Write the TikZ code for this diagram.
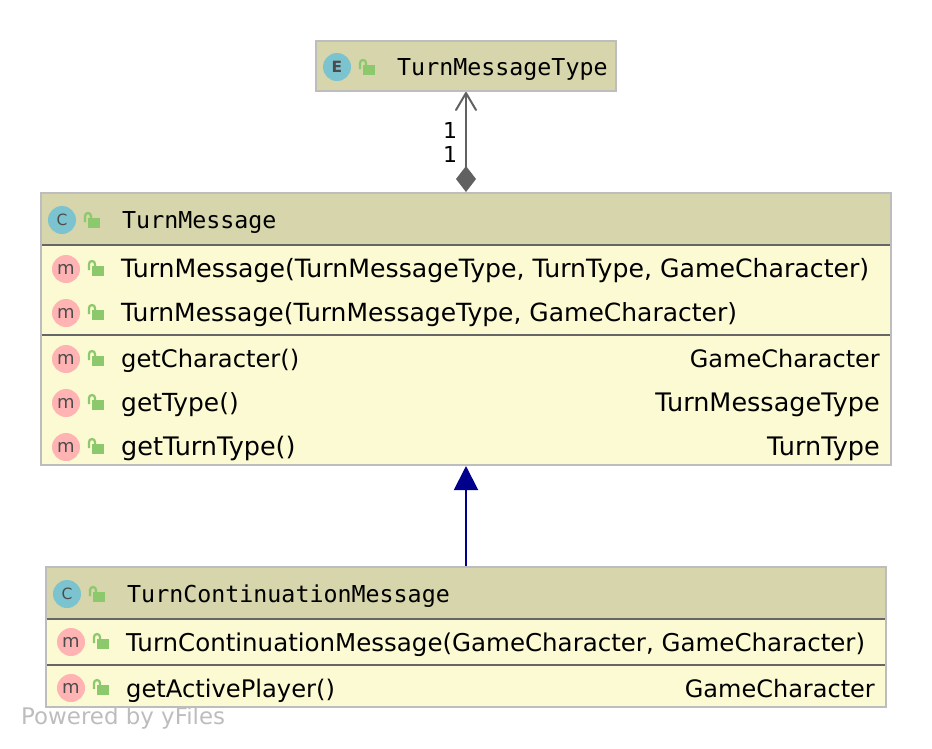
\documentclass[tikz,border=0pt]{standalone}
\usepackage{fontspec}
\setmainfont{DejaVu Sans}
\setmonofont{DejaVu Sans Mono}
\usetikzlibrary{arrows.meta}
\definecolor{headfill}{HTML}{D6D5AB}
\definecolor{bodyfill}{HTML}{FCFAD2}
\definecolor{boxline}{HTML}{BDBDBD}
\definecolor{sepline}{HTML}{666666}
\definecolor{iconblue}{HTML}{7CC3D0}
\definecolor{iconpink}{HTML}{FFB3B3}
\definecolor{lockgreen}{HTML}{8CC86C}
\tikzset{
  boxbody/.style={rectangle, fill=bodyfill, minimum height=#1, inner sep=0pt},
  boxhead/.style={rectangle, fill=headfill, inner sep=0pt},
  boxframe/.style={draw=boxline, line width=2pt},
  sep/.style={draw=sepline, line width=2pt},
  title/.style={anchor=base west, inner sep=0pt, font=\fontsize{23.3}{28}\ttfamily},
  member/.style={anchor=base west, inner sep=0pt, font=\fontsize{#1}{28}\selectfont},
  rettype/.style={anchor=base east, inner sep=0pt, font=\fontsize{#1}{28}\selectfont},
  kindicon/.style={circle, fill=iconblue, minimum size=28pt, inner sep=0pt, text=black!70, font=\fontsize{15.5}{18}\selectfont},
  methicon/.style={circle, fill=iconpink, minimum size=28pt, inner sep=0pt, text=black!70, font=\fontsize{18}{20}\selectfont},
  lock/.pic={
    \fill[lockgreen] (-4,-2) rectangle (8,8);
    \draw[lockgreen, line width=2.2pt] (-7,2) -- (-7,-4) arc[start angle=180, end angle=360, radius=3] -- (-1,-2);
  }
}
\begin{document}
\begin{tikzpicture}[x=1pt, y=-1pt]
  \useasboundingbox (0,0) rectangle (932,748);
  % enum box
  \node[boxhead, boxframe, minimum width=300pt, minimum height=50pt] (typeBox) at (466,66) {};
  \node[kindicon, font=\fontsize{15.5}{18}\bfseries] (typeIcon) at (337,67) {E};
  \pic at (367,67) {lock};
  \node[title] (typeName) at (397,75) {TurnMessageType};

  % TurnMessage
  \node[boxbody=272pt, minimum width=850pt] (msgBox) at (466,329) {};
  \node[boxhead, minimum width=850pt, minimum height=52pt] (msgHead) at (466,219) {};
  \draw[sep] (msgHead.south west) -- (msgHead.south east);
  \draw[sep] (41,335) -- (891,335);
  \node[boxframe, minimum width=850pt, minimum height=272pt] (msgFrame) at (466,329) {};
  \node[kindicon] (msgIcon) at (62,220) {C};
  \pic at (92,220) {lock};
  \node[title] (msgName) at (122,228) {TurnMessage};
  \node[methicon] (ctorIconA) at (66,269) {m};
  \pic at (96,268) {lock};
  \node[member=25.2] (ctorA) at (121,277) {TurnMessage(TurnMessageType, TurnType, GameCharacter)};
  \node[methicon] (ctorIconB) at (66,313) {m};
  \pic at (96,312) {lock};
  \node[member=25] (ctorB) at (121,321) {TurnMessage(TurnMessageType, GameCharacter)};
  \node[methicon] (charIcon) at (66,359) {m};
  \pic at (96,358) {lock};
  \node[member=24.2] (getChar) at (121,367) {getCharacter()};
  \node[rettype=24] (getCharRet) at (880,367) {GameCharacter};
  \node[methicon] (typeGetIcon) at (66,403) {m};
  \pic at (96,402) {lock};
  \node[member=24.9] (getType) at (121,411) {getType()};
  \node[rettype=25.5] (getTypeRet) at (880,411) {TurnMessageType};
  \node[methicon] (turnIcon) at (66,447) {m};
  \pic at (96,446) {lock};
  \node[member=25.5] (getTurn) at (121,455) {getTurnType()};
  \node[rettype=25.5] (getTurnRet) at (880,455) {TurnType};

  % TurnContinuationMessage
  \node[boxbody=140pt, minimum width=840pt] (contBox) at (466,637) {};
  \node[boxhead, minimum width=840pt, minimum height=52pt] (contHead) at (466,593) {};
  \draw[sep] (contHead.south west) -- (contHead.south east);
  \draw[sep] (46,665) -- (886,665);
  \node[boxframe, minimum width=840pt, minimum height=140pt] (contFrame) at (466,637) {};
  \node[kindicon] (contIcon) at (67,594) {C};
  \pic at (97,594) {lock};
  \node[title] (contName) at (127,602) {TurnContinuationMessage};
  \node[methicon] (contCtorIcon) at (71,642) {m};
  \pic at (101,641) {lock};
  \node[member=24.5] (contCtor) at (126,651) {TurnContinuationMessage(GameCharacter, GameCharacter)};
  \node[methicon] (activeIcon) at (71,688) {m};
  \pic at (101,687) {lock};
  \node[member=24.2] (active) at (126,697) {getActivePlayer()};
  \node[rettype=24] (activeRet) at (875,697) {GameCharacter};

  % connectors
  \draw[{Diamond[length=26pt, width=20pt, sep=0pt]}-{Straight Barb[length=17pt, width=20pt, round]}, draw=black!62, fill=black!65, line width=2pt] (msgFrame.north) -- (typeBox.south);
  \draw[-{Triangle[length=24pt, width=24pt]}, draw=blue!55!black, fill=blue!55!black, line width=2pt] (contFrame.north) -- (msgFrame.south);
  \node[anchor=base, inner sep=0pt, font=\fontsize{22}{26}\selectfont] (multTop) at (450,138) {1};
  \node[anchor=base, inner sep=0pt, font=\fontsize{22}{26}\selectfont] (multBottom) at (450,162) {1};

  \node[anchor=base west, inner sep=0pt, text=boxline, font=\fontsize{22.9}{26}\selectfont] (poweredBy) at (21,724) {Powered by yFiles};
\end{tikzpicture}
\end{document}
